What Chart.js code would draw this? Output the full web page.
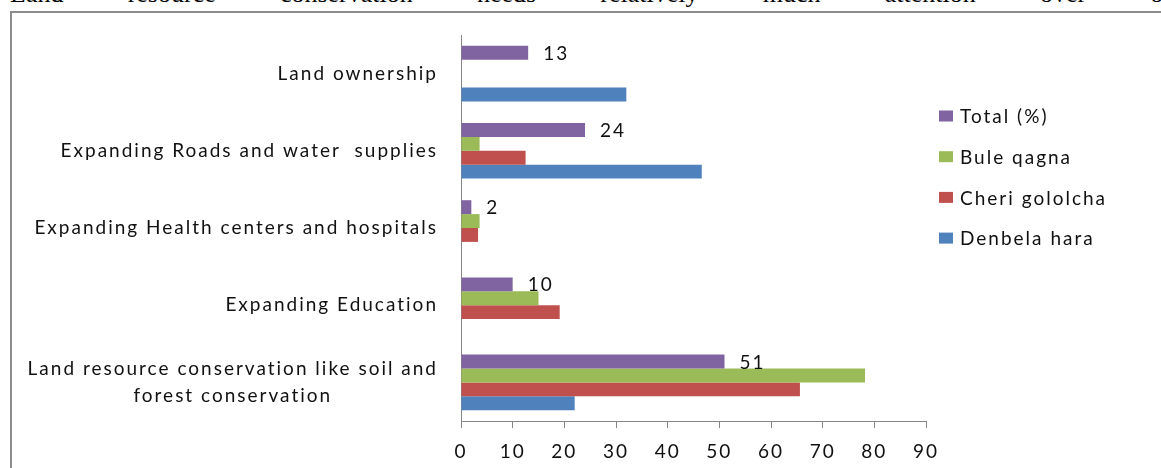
<!DOCTYPE html>
<html>
<head>
<meta charset="utf-8">
<title>Priority development needs by kebele</title>
<script src="https://cdn.jsdelivr.net/npm/chart.js@4/dist/chart.umd.min.js"></script>
<style>
  html, body { margin: 0; padding: 0; background: #fff; width: 1161px; height: 468px; overflow: hidden; }
  /* last line of the paragraph above the figure, justified */
  #lead { position: absolute; left: 10px; top: -19px; width: 1162px; display: flex; justify-content: space-between;
          font: 26px/26px "Liberation Serif", "Times New Roman", serif; color: #000; white-space: nowrap; }
  #frame { position: absolute; left: 10px; top: 11px; width: 1200px; height: 500px;
           border-left: 2.5px solid #8c8c8c; border-top: 2.5px solid #8c8c8c; }
  #c { position: absolute; left: 0; top: 0; }
</style>
</head>
<body>
<div id="lead"><span>Land</span><span>resource</span><span>conservation</span><span>needs</span><span>relatively</span><span>much</span><span>attention</span><span>over</span><span>of</span></div>
<div id="frame"></div>
<canvas id="c" width="1161" height="468"></canvas>
<script>
(function () {
  "use strict";

  // categories, top to bottom
  var categories = [
    "Land ownership",
    "Expanding Roads and water  supplies",
    "Expanding Health centers and hospitals",
    "Expanding Education",
    ["Land resource conservation like soil and", "forest conservation"]
  ];
  var seriesNames = ["Total (%)", "Bule qagna", "Cheri gololcha", "Denbela hara"];
  var seriesColors = ["#8064A2", "#9BBB59", "#C0504D", "#4F81BD"];

  // percent of respondents
  var total = [13, 24, 2, 10, 51];
  var buleQagna = [0, 3.6, 3.6, 15, 78.2];
  var cheriGololcha = [0, 12.5, 3.3, 19.1, 65.6];
  var denbelaHara = [32, 46.6, 0, 0, 22];

  var xMin = 0, xMax = 90, xStep = 10;

  var FONT = { family: "Lato, 'Open Sans', sans-serif", size: 19 };
  var LETTER = "2px";
  var INK = "#111";
  var AXIS = "#868686";

  function fontStr() { return FONT.size + "px " + FONT.family; }

  // loose lettering for everything on the canvas
  var spacing = {
    id: "spacing",
    beforeDraw: function (chart) { chart.ctx.letterSpacing = LETTER; }
  };

  // category names: block right-aligned to the axis, lines centred inside the block
  var catLabels = {
    id: "catLabels",
    afterDraw: function (chart) {
      var ctx = chart.ctx, ys = chart.scales.y, right = chart.chartArea.left - 23, lineH = 27;
      ctx.save();
      ctx.font = fontStr();
      ctx.fillStyle = INK;
      ctx.textAlign = "center";
      ctx.textBaseline = "middle";
      categories.forEach(function (c, i) {
        var lines = Array.isArray(c) ? c : [c];
        var w = Math.max.apply(null, lines.map(function (l) { return ctx.measureText(l).width; }));
        var y = ys.getPixelForValue(i);
        lines.forEach(function (l, j) {
          ctx.fillText(l, right - w / 2, y + (j - (lines.length - 1) / 2) * lineH);
        });
      });
      ctx.restore();
    }
  };

  // value labels on the Total series only
  var totalLabels = {
    id: "totalLabels",
    afterDatasetsDraw: function (chart) {
      var ctx = chart.ctx, meta = chart.getDatasetMeta(0);
      ctx.save();
      ctx.font = fontStr();
      ctx.fillStyle = INK;
      ctx.textAlign = "left";
      ctx.textBaseline = "middle";
      meta.data.forEach(function (bar, i) {
        ctx.fillText(String(total[i]), bar.x + 15, bar.y + 1);
      });
      ctx.restore();
    }
  };

  // legend on the right
  var LEGEND_Y0 = 116, LEGEND_STEP = 40.7;
  var sideLegend = {
    id: "sideLegend",
    afterDraw: function (chart) {
      var ctx = chart.ctx, x = chart.chartArea.right + 13;
      ctx.save();
      ctx.font = fontStr();
      ctx.textAlign = "left";
      ctx.textBaseline = "middle";
      chart.data.datasets.forEach(function (ds, i) {
        var y = LEGEND_Y0 + i * LEGEND_STEP;
        ctx.fillStyle = ds.backgroundColor;
        ctx.fillRect(x, y - 5.5, 14, 11);
        ctx.fillStyle = INK;
        ctx.fillText(ds.label, x + 21, y + 1);
      });
      ctx.restore();
    }
  };

  var seriesData = [total, buleQagna, cheriGololcha, denbelaHara];

  new Chart(document.getElementById("c"), {
    type: "bar",
    data: {
      labels: categories,
      datasets: seriesNames.map(function (name, i) {
        return {
          label: name,
          data: seriesData[i],
          backgroundColor: seriesColors[i],
          borderWidth: 0,
          categoryPercentage: 0.72,
          barPercentage: 1.0
        };
      })
    },
    options: {
      indexAxis: "y",
      responsive: false,
      devicePixelRatio: 1,
      animation: false,
      layout: { padding: { top: 35, right: 235, bottom: 0, left: 0 } },
      plugins: { legend: { display: false }, tooltip: { enabled: false } },
      scales: {
        x: {
          min: xMin, max: xMax,
          ticks: { stepSize: xStep, color: INK, font: FONT, padding: 12, maxRotation: 0 },
          grid: { drawOnChartArea: false, drawTicks: true, tickLength: 7, color: AXIS },
          border: { color: AXIS, width: 1 },
          afterFit: function (s) { s.height = 47; }
        },
        y: {
          ticks: { display: false },
          grid: { display: false },
          border: { color: AXIS, width: 1 },
          afterFit: function (s) { s.width = 461; }
        }
      }
    },
    plugins: [spacing, catLabels, totalLabels, sideLegend]
  });
})();
</script>
</body>
</html>
